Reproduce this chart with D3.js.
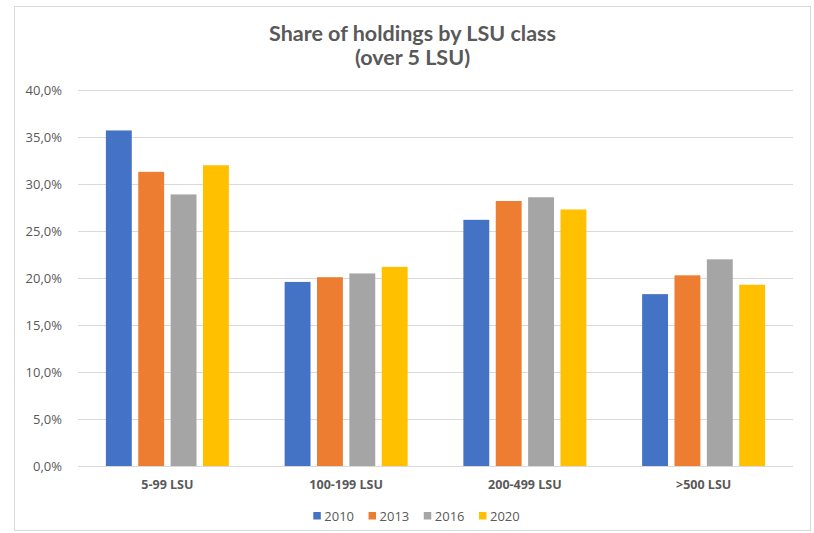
<!DOCTYPE html>
<html>
<head>
<meta charset="utf-8">
<script src="https://cdn.jsdelivr.net/npm/d3@7"></script>
<style>
  html, body { margin: 0; padding: 0; background: #fff; }
  svg { display: block; }
</style>
</head>
<body>
<script>
const categories = ["5-99 LSU", "100-199 LSU", "200-499 LSU", ">500 LSU"];
const seriesNames = ["2010", "2013", "2016", "2020"];
const values2010 = [35.7, 19.6, 26.2, 18.3];
const values2013 = [31.3, 20.1, 28.2, 20.3];
const values2016 = [28.9, 20.5, 28.6, 22.0];
const values2020 = [32.0, 21.2, 27.3, 19.3];
const yTicks = [0, 5, 10, 15, 20, 25, 30, 35, 40];
const colors = ["#4472C4", "#ED7D31", "#A5A5A5", "#FFC000"];
const titleLines = ["Share of holdings by LSU class", "(over 5 LSU)"];

const seriesValues = [values2010, values2013, values2016, values2020];

const W = 814, H = 533;
const svg = d3.select("body").append("svg").attr("width", W).attr("height", H);

// chart frame
svg.append("rect").attr("x", 14.5).attr("y", 6.5).attr("width", 796).attr("height", 524)
  .attr("fill", "#fff").attr("stroke", "#D9D9D9").attr("stroke-width", 1);

const plot = { left: 78, right: 793, top: 90, bottom: 466.3 };

const x0 = d3.scaleBand().domain(categories).range([plot.left, plot.right]).padding(0);
const groupW = 123;
const x1 = d3.scaleBand().domain(seriesNames)
  .range([x0.bandwidth() / 2 - groupW / 2, x0.bandwidth() / 2 + groupW / 2])
  .paddingInner(0.2).paddingOuter(0);
const y = d3.scaleLinear().domain([0, 40]).range([plot.bottom, plot.top]);

const textColor = "#595959";

// gridlines
svg.append("g").selectAll("line").data(yTicks.filter(d => d > 0)).join("line")
  .attr("x1", plot.left).attr("x2", plot.right)
  .attr("y1", d => Math.round(y(d)) + 0.5).attr("y2", d => Math.round(y(d)) + 0.5)
  .attr("stroke", "#D9D9D9").attr("stroke-width", 1);

// y axis labels
const fmt = d => d.toFixed(1).replace(".", ",") + "%";
svg.append("g").selectAll("text").data(yTicks).join("text")
  .attr("x", 62).attr("y", d => y(d))
  .attr("dy", "0.35em")
  .attr("text-anchor", "end")
  .attr("font-family", "'Open Sans', sans-serif")
  .attr("font-size", 13)
  .attr("fill", textColor)
  .text(fmt);

// bars
const groups = svg.append("g").selectAll("g").data(categories).join("g")
  .attr("transform", c => `translate(${x0(c)},0)`);
groups.selectAll("rect")
  .data((c, ci) => seriesNames.map((s, si) => ({ s, si, v: seriesValues[si][ci] })))
  .join("rect")
  .attr("x", d => x1(d.s))
  .attr("width", x1.bandwidth())
  .attr("y", d => y(d.v))
  .attr("height", d => y(0) - y(d.v))
  .attr("fill", d => colors[d.si]);

// x axis baseline
svg.append("line")
  .attr("x1", plot.left).attr("x2", plot.right)
  .attr("y1", Math.round(y(0)) + 0.5).attr("y2", Math.round(y(0)) + 0.5)
  .attr("stroke", "#D9D9D9").attr("stroke-width", 1);

// category labels
svg.append("g").selectAll("text").data(categories).join("text")
  .attr("x", c => x0(c) + x0.bandwidth() / 2)
  .attr("y", 489)
  .attr("text-anchor", "middle")
  .attr("font-family", "'Open Sans', sans-serif")
  .attr("font-weight", "bold")
  .attr("font-size", 12.5)
  .attr("fill", textColor)
  .text(c => c);

// title
svg.append("g").selectAll("text").data(titleLines).join("text")
  .attr("x", 412.5)
  .attr("y", (d, i) => 40.5 + i * 24)
  .attr("text-anchor", "middle")
  .attr("font-family", "Lato, sans-serif")
  .attr("font-weight", "bold")
  .attr("font-size", 21.5)
  .attr("fill", textColor)
  .text(d => d);

// legend
const legendX = d3.scalePoint().domain(seriesNames).range([313.3, 479]);
const lg = svg.append("g").selectAll("g").data(seriesNames).join("g")
  .attr("transform", s => `translate(${legendX(s)},0)`);
lg.append("rect").attr("x", 0).attr("y", 512).attr("width", 7.5).attr("height", 7.5)
  .attr("fill", (s, i) => colors[i]);
lg.append("text").attr("x", 11).attr("y", 520.5)
  .attr("font-family", "'Open Sans', sans-serif")
  .attr("font-size", 13)
  .attr("fill", textColor)
  .text(s => s);
</script>
</body>
</html>
